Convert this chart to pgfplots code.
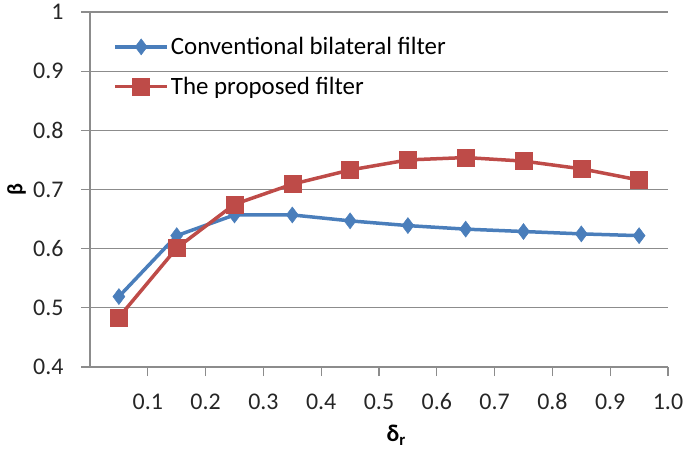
\documentclass[border=0pt]{standalone}
\usepackage{pgfplots}
\pgfplotsset{compat=1.18}
\usepackage{fontspec}
\setmainfont{Carlito}
\definecolor{exblue}{HTML}{4A7EBB}
\definecolor{exred}{HTML}{BE4B48}
\definecolor{gridgray}{HTML}{8C8C8C}
\begin{document}
\begin{tikzpicture}
\path[use as bounding box] (-90bp,-83bp) rectangle (595bp,367bp);
\begin{axis}[
  at={(0,0)}, anchor=south west,
  scale only axis, width=578bp, height=355bp,
  xmin=0, xmax=1, ymin=0.4, ymax=1,
  axis lines*=left,
  axis line style={gridgray, line width=1.2bp},
  xtick={0.1,0.2,0.3,0.4,0.5,0.6,0.7,0.8,0.9,1.0},
  xticklabels={0.1,0.2,0.3,0.4,0.5,0.6,0.7,0.8,0.9,1.0},
  ytick={0.4,0.5,0.6,0.7,0.8,0.9,1},
  yticklabels={0.4,0.5,0.6,0.7,0.8,0.9,1},
  ymajorgrids,
  grid style={gridgray, line width=1.2bp},
  tick align=outside,
  major tick length=9bp,
  tick style={gridgray, line width=1.2bp},
  /pgf/number format/assume math mode=true,
  tick label style={font=\fontsize{24}{28}\selectfont, text=black!85},
  yticklabel style={xshift=-14bp},
  xticklabel style={yshift=-14bp},
  xlabel={\textbf{δ\textsubscript{r}}},
  xlabel style={font=\fontsize{24}{28}\selectfont, at={(axis description cs:0.53,0)}, anchor=north, yshift=-55bp},
  ylabel={\textbf{β}},
  ylabel style={font=\fontsize{22}{26}\selectfont, at={(axis description cs:-0.127,0.5)}, anchor=center},
  legend style={draw=none, fill=none, at={(axis description cs:0.035,0.94)}, anchor=north west,
    font=\fontsize{25}{29}\selectfont, row sep=17bp, cells={anchor=west}},
  legend image code/.code={\draw[#1, mark repeat=2, mark phase=2] plot coordinates {(0bp,0bp) (26bp,0bp) (52bp,0bp)};},
]
\addplot[exblue, line width=3.5bp, mark=diamond*, mark size=8bp, mark options={solid, line width=0.5bp}] coordinates {
(0.05,0.519) (0.15,0.622) (0.25,0.657) (0.35,0.657) (0.45,0.647) (0.55,0.639) (0.65,0.633) (0.75,0.629) (0.85,0.625) (0.95,0.622)};
\addlegendentry{Conventional bilateral filter}
\addplot[exred, line width=3.5bp, mark=square*, mark size=8.5bp, mark options={solid, line width=0.5bp}] coordinates {
(0.05,0.484) (0.15,0.601) (0.25,0.675) (0.35,0.709) (0.45,0.733) (0.55,0.750) (0.65,0.754) (0.75,0.748) (0.85,0.735) (0.95,0.716)};
\addlegendentry{The proposed filter}
\end{axis}
\end{tikzpicture}
\end{document}
